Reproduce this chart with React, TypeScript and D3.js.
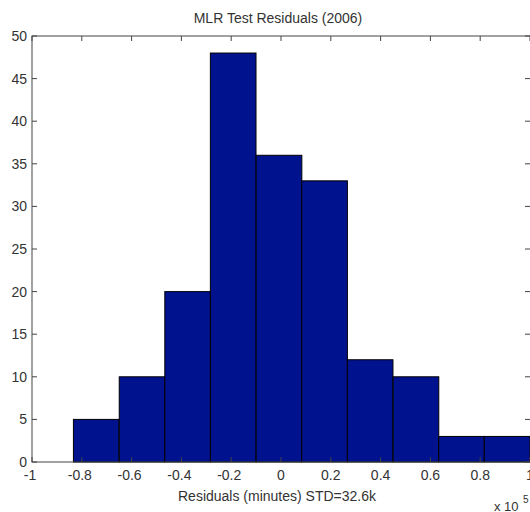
import React from "react";
import * as d3 from "d3";

const binCenters = [-0.742, -0.558, -0.375, -0.192, -0.008, 0.175, 0.358, 0.542, 0.725, 0.908];
const binWidth = 0.1833;
const counts = [5, 10, 20, 48, 36, 33, 12, 10, 3, 3];
const xTicks = [-1, -0.8, -0.6, -0.4, -0.2, 0, 0.2, 0.4, 0.6, 0.8, 1];
const xTickLabels = ["-1", "-0.8", "-0.6", "-0.4", "-0.2", "0", "0.2", "0.4", "0.6", "0.8", "1"];
const yTicks = [0, 5, 10, 15, 20, 25, 30, 35, 40, 45, 50];
const title = "MLR Test Residuals (2006)";
const xLabel = "Residuals (minutes) STD=32.6k";

const W = 530, H = 512;
const L = 32, R = 530, T = 36, B = 462;
const font = "'Liberation Sans', Arial, Helvetica, sans-serif";
const textColor = "#333";
const axisColor = "#444";
const tickLen = 5;

export default function App() {
  const x = d3.scaleLinear().domain([-1, 1]).range([L, R]);
  const y = d3.scaleLinear().domain([0, 50]).range([B, T]);
  return (
    <svg width={W} height={H} style={{ position: "fixed", left: 0, top: 0, background: "#fff" }}>
      <rect x={0} y={0} width={W} height={H} fill="#fff" />
      {counts.map((c, i) => {
        const x0 = x(binCenters[i] - binWidth / 2);
        const x1 = x(binCenters[i] + binWidth / 2);
        return (
          <rect key={i} x={x0} y={y(c)} width={x1 - x0} height={y(0) - y(c)}
            fill="#00128e" stroke="#000" strokeWidth={1} />
        );
      })}
      <rect x={L} y={T} width={R - L + 1} height={B - T} fill="none" stroke={axisColor} strokeWidth={1} />
      {xTicks.map((t, i) => (
        <g key={"xt" + i}>
          <line x1={x(t)} x2={x(t)} y1={B} y2={B - tickLen} stroke={axisColor} />
          <line x1={x(t)} x2={x(t)} y1={T} y2={T + tickLen} stroke={axisColor} />
          <text x={x(t) - (t < 0 ? 2 : 0)} y={480} textAnchor="middle" fontFamily={font} fontSize={14} fill={textColor}>
            {xTickLabels[i]}
          </text>
        </g>
      ))}
      {yTicks.map((t, i) => (
        <g key={"yt" + i}>
          <line x1={L} x2={L + tickLen} y1={y(t)} y2={y(t)} stroke={axisColor} />
          <line x1={R} x2={R - tickLen} y1={y(t)} y2={y(t)} stroke={axisColor} />
          <text x={27} y={y(t) + 5} textAnchor="end" fontFamily={font} fontSize={14} fill={textColor}>
            {t}
          </text>
        </g>
      ))}
      <text x={278} y={23} textAnchor="middle" fontFamily={font} fontSize={14} fill={textColor}>
        {title}
      </text>
      <text x={277} y={501} textAnchor="middle" fontFamily={font} fontSize={14} fill={textColor}>
        {xLabel}
      </text>
      <text x={494} y={511} fontFamily={font} fontSize={13} fill={textColor}>
        x 10
      </text>
      <text x={523} y={503} fontFamily={font} fontSize={10} fill={textColor}>
        5
      </text>
    </svg>
  );
}
